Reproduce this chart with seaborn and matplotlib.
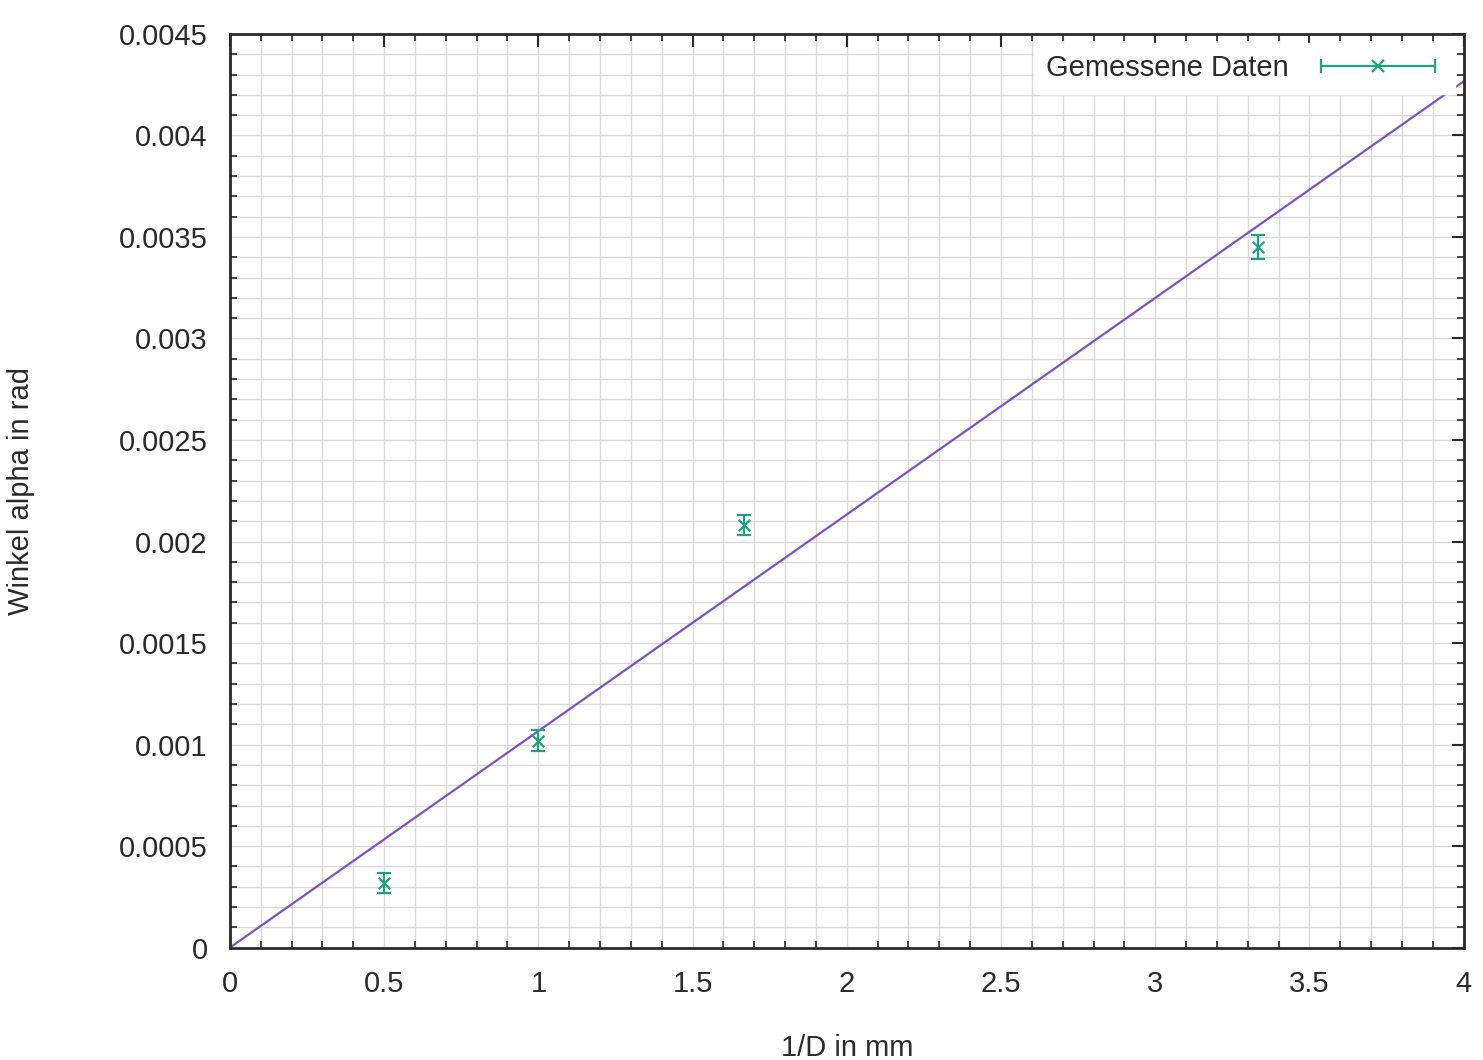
import matplotlib
matplotlib.use("Agg")
import matplotlib.pyplot as plt
import numpy as np
import pandas as pd
import seaborn as sns
from matplotlib.lines import Line2D
from matplotlib.legend_handler import HandlerLine2D, HandlerTuple
from matplotlib.ticker import MultipleLocator

inv_d = [0.5, 1.0, 1.667, 3.333]          # 1/D in mm
alpha = [0.00032, 0.00102, 0.00208, 0.00345]  # rad
alpha_err = [0.00005, 0.00005, 0.00005, 0.00006]

x_ticks = [0, 0.5, 1, 1.5, 2, 2.5, 3, 3.5, 4]
y_ticks = [0, 0.0005, 0.001, 0.0015, 0.002, 0.0025, 0.003, 0.0035, 0.004, 0.0045]

LINE_COL = "#7b52c8"
DATA_COL = "#1fa37f"
TEXT_COL = "#2a2a2a"

sns.set_theme(style="white")
plt.rcParams["font.family"] = ["Liberation Sans", "DejaVu Sans"]

df = pd.DataFrame({"x": inv_d, "y": alpha, "err": alpha_err})

# proportional fit through origin
slope = np.sum(df.x * df.y) / np.sum(df.x ** 2)
fit = pd.DataFrame({"x": [x_ticks[0], x_ticks[-1]]})
fit["y"] = slope * fit.x

fig = plt.figure(figsize=(14.83, 10.6), dpi=100)
ax = fig.add_axes([0.155, 0.106, 0.832, 0.862])

ax.xaxis.set_minor_locator(MultipleLocator(0.1))
ax.yaxis.set_minor_locator(MultipleLocator(0.0001))
ax.grid(True, which="both", color="#d9d9d9", lw=1.0)
ax.set_axisbelow(True)

sns.lineplot(data=fit, x="x", y="y", color=LINE_COL, lw=1.6, ax=ax)
ax.errorbar(df.x, df.y, yerr=df.err, fmt="none", ecolor=DATA_COL,
            elinewidth=1.6, capsize=5, capthick=1.6)
sns.scatterplot(data=df, x="x", y="y", marker="x", s=70, color=DATA_COL,
                linewidth=1.6, ax=ax)

ax.set_xlim(x_ticks[0], x_ticks[-1])
ax.set_ylim(y_ticks[0], y_ticks[-1])
ax.set_xticks(x_ticks)
ax.set_yticks(y_ticks)
ax.set_xticklabels([f"{v:g}" for v in x_ticks])
ax.set_yticklabels([f"{v:g}" for v in y_ticks])
ax.tick_params(which="major", direction="in", length=9, width=1.5,
               top=True, right=True, labelsize=21, colors=TEXT_COL, pad=16)
ax.tick_params(which="minor", direction="in", length=5, width=1.2,
               top=True, right=True, bottom=True, left=True)
for sp in ax.spines.values():
    sp.set_color(TEXT_COL)
    sp.set_linewidth(2)

ax.set_xlabel("1/D in mm", fontsize=21, color=TEXT_COL, labelpad=26)
ax.set_ylabel("Winkel alpha in rad", fontsize=21, color=TEXT_COL, labelpad=60)

# gnuplot-style legend sample: horizontal bar with caps and an x marker
caps = Line2D([], [], color=DATA_COL, lw=1.6, marker="|", markersize=10,
              markeredgewidth=1.6)
cross = Line2D([], [], color=DATA_COL, lw=0, marker="x", markersize=9,
               markeredgewidth=1.6)
ax.legend(handles=[(caps, cross)], labels=["Gemessene Daten"],
          handler_map={caps: HandlerLine2D(numpoints=2),
                       cross: HandlerLine2D(numpoints=1),
                       tuple: HandlerTuple(ndivide=1, pad=0)},
          loc="upper right", frameon=True, framealpha=1, edgecolor="white",
          facecolor="white", fontsize=21, markerfirst=False,
          handlelength=4.5, borderaxespad=0.3, labelcolor=TEXT_COL)

fig.savefig("out.png", dpi=100)
